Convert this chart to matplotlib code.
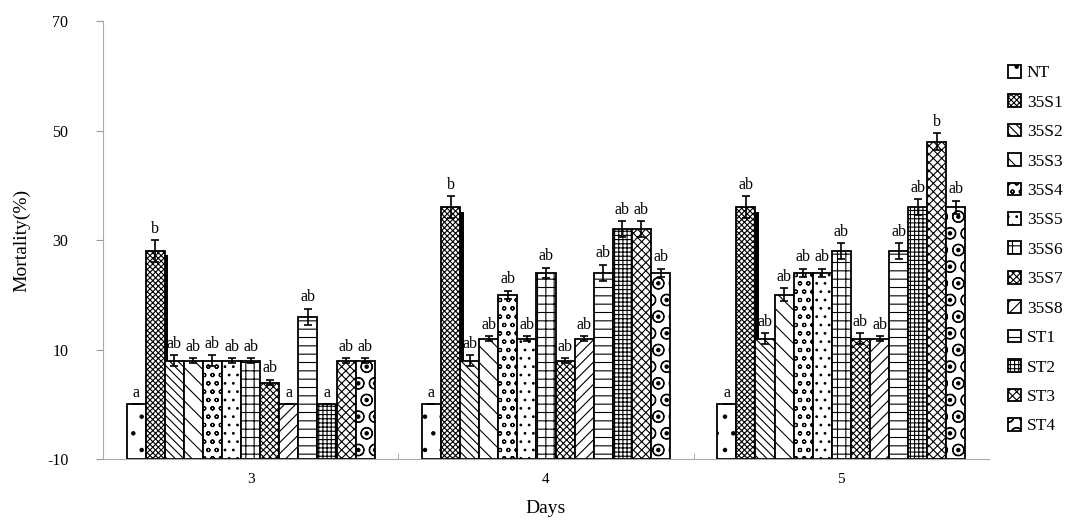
import numpy as np
import matplotlib
matplotlib.use('Agg')
import matplotlib.pyplot as plt

plt.rcParams['font.family'] = ['Liberation Serif', 'DejaVu Serif']
plt.rcParams['hatch.linewidth'] = 0.8
plt.rcParams['axes.unicode_minus'] = False

# data
days = ['3', '4', '5']
groups = ['NT', '35S1', '35S2', '35S3', '35S4', '35S5', '35S6', '35S7', '35S8',
          'ST1', 'ST2', 'ST3', 'ST4']

day3 = [0, 28, 8, 8, 8, 8, 8, 4, 0, 16, 0, 8, 8]
day4 = [0, 36, 8, 12, 20, 12, 24, 8, 12, 24, 32, 32, 24]
day5 = [0, 36, 12, 20, 24, 24, 28, 12, 12, 28, 36, 48, 36]

err3 = [0, 2, 1, 0.5, 1, 0.5, 0.5, 0.5, 0, 1.5, 0, 0.5, 0.5]
err4 = [0, 2, 1, 0.5, 0.8, 0.5, 1, 0.5, 0.5, 1.5, 1.5, 1.5, 0.8]
err5 = [0, 2, 1, 1.2, 0.8, 0.8, 1.5, 1, 0.5, 1.5, 1.5, 1.5, 1.2]

let3 = ['a', 'b', 'ab', 'ab', 'ab', 'ab', 'ab', 'ab', 'a', 'ab', 'a', 'ab', 'ab']
let4 = ['a', 'b', 'ab', 'ab', 'ab', 'ab', 'ab', 'ab', 'ab', 'ab', 'ab', 'ab', 'ab']
let5 = ['a', 'ab', 'ab', 'ab', 'ab', 'ab', 'ab', 'ab', 'ab', 'ab', 'ab', 'b', 'ab']

hatches = ['.', 'xxxxxx', '\\\\\\\\', '\\\\', 'oo', '..', '++', 'XXXXX', '///',
           '--', '++++', 'xxxx', 'O.']

vals = np.array([day3, day4, day5]).T
errs = np.array([err3, err4, err5]).T
lets = np.array([let3, let4, let5]).T

base = -10
fig = plt.figure(figsize=(10.66, 5.26), dpi=100)
ax = fig.add_axes([0.0966, 0.127, 0.8312, 0.833])

x = np.arange(len(days))
n = len(groups)
w = 0.84 / n

for i in range(n):
    xi = x - 0.42 + w * (i + 0.5)
    h = vals[i] - base
    if groups[i] == '35S1':
        # dark shadow on the right side of this series
        ax.bar(xi + 0.012, h - 0.8, w, bottom=base, color='black', zorder=1)
    ax.bar(xi, h, w, bottom=base, facecolor='white', edgecolor='black',
           linewidth=1.3, hatch=hatches[i], label=groups[i], zorder=2)
    ax.errorbar(xi, vals[i], yerr=errs[i], fmt='none', ecolor='black',
                elinewidth=1.2, capsize=3, capthick=1.2, zorder=3)
    for j in range(len(days)):
        ax.text(xi[j], vals[i][j] + errs[i][j] + 0.6, lets[i][j],
                ha='center', va='bottom', fontsize=11.5)

ax.set_xlim(-0.5, 2.5)
ax.set_ylim(-10, 70)
ax.set_yticks([-10, 10, 30, 50, 70])
ax.set_xticks(x)
ax.set_xticklabels(days, fontsize=11)
ax.set_xticks([0.5, 1.5], minor=True)
ax.tick_params(axis='x', which='major', length=0, pad=10)
ax.tick_params(axis='x', which='minor', direction='in', length=4, color='#999999')
ax.tick_params(axis='y', labelsize=11.5, color='#999999', length=5, pad=20)

for s in ['top', 'right']:
    ax.spines[s].set_visible(False)
for s in ['left', 'bottom']:
    ax.spines[s].set_color('#aaaaaa')

ax.set_ylabel('Mortality(%)', fontsize=14, labelpad=12)
ax.set_xlabel('Days', fontsize=14, labelpad=10)

ax.legend(loc='upper left', bbox_to_anchor=(1.021, 0.9), frameon=False,
          handlelength=0.75, handleheight=0.75, handletextpad=0.35,
          labelspacing=0.75, fontsize=12.5, borderaxespad=0, borderpad=0)

fig.savefig('out.png', dpi=100)
